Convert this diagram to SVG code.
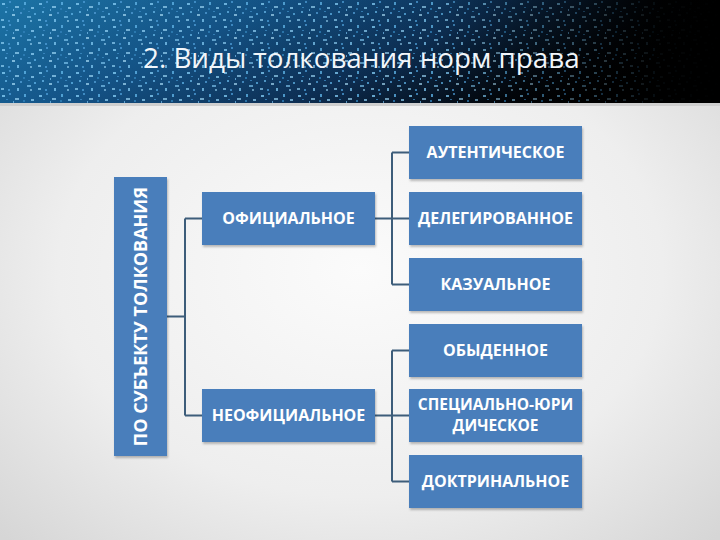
<svg xmlns="http://www.w3.org/2000/svg" width="720" height="540" viewBox="0 0 720 540">
  <defs>
    <radialGradient id="bg" cx="0.5" cy="0.5" r="0.7">
      <stop offset="0" stop-color="#fbfbfb"/>
      <stop offset="0.6" stop-color="#eeeeee"/>
      <stop offset="1" stop-color="#d6d6d6"/>
    </radialGradient>
    <linearGradient id="ban" x1="0" y1="0" x2="1" y2="0.3">
      <stop offset="0" stop-color="#1c74a6"/>
      <stop offset="0.35" stop-color="#145488"/>
      <stop offset="0.65" stop-color="#0d3056"/>
      <stop offset="0.9" stop-color="#03080f"/>
      <stop offset="1" stop-color="#000000"/>
    </linearGradient>
    <linearGradient id="fade" x1="0" y1="0" x2="1" y2="0">
      <stop offset="0" stop-color="#000" stop-opacity="0"/>
      <stop offset="0.6" stop-color="#000" stop-opacity="0.05"/>
      <stop offset="0.8" stop-color="#000" stop-opacity="0.5"/>
      <stop offset="0.92" stop-color="#000" stop-opacity="0.95"/>
      <stop offset="1" stop-color="#000" stop-opacity="1"/>
    </linearGradient>
    <pattern id="dots" x="0" y="0" width="37" height="23" patternUnits="userSpaceOnUse">
      <rect x="2" y="3" width="3" height="2" fill="#7cc4ef" opacity="0.85"/>
      <rect x="9" y="1" width="2" height="2" fill="#4a9ad4" opacity="0.8"/>
      <rect x="15" y="6" width="4" height="2" fill="#9ad6f7" opacity="0.7"/>
      <rect x="24" y="2" width="2" height="3" fill="#5aaee2" opacity="0.85"/>
      <rect x="31" y="7" width="3" height="2" fill="#8fd0f5" opacity="0.75"/>
      <rect x="5" y="11" width="2" height="2" fill="#62b2e4" opacity="0.8"/>
      <rect x="12" y="14" width="3" height="2" fill="#a8ddf8" opacity="0.7"/>
      <rect x="20" y="12" width="2" height="2" fill="#4b97cf" opacity="0.85"/>
      <rect x="27" y="16" width="4" height="2" fill="#7cc4ef" opacity="0.7"/>
      <rect x="34" y="13" width="2" height="2" fill="#5aaee2" opacity="0.8"/>
      <rect x="1" y="19" width="3" height="2" fill="#8fd0f5" opacity="0.7"/>
      <rect x="8" y="20" width="2" height="2" fill="#4a9ad4" opacity="0.8"/>
      <rect x="17" y="19" width="2" height="3" fill="#7cc4ef" opacity="0.8"/>
      <rect x="23" y="8" width="2" height="2" fill="#2f7fb8" opacity="0.85"/>
      <rect x="30" y="20" width="2" height="2" fill="#9ad6f7" opacity="0.6"/>
      <rect x="6" y="7" width="2" height="1" fill="#3d8cc6" opacity="0.8"/>
      <rect x="28" y="11" width="2" height="1" fill="#3d8cc6" opacity="0.8"/>
      <rect x="13" y="9" width="1" height="2" fill="#6fb8e8" opacity="0.8"/>
    </pattern>
    <filter id="sh" x="-10%" y="-10%" width="130%" height="140%">
      <feDropShadow dx="1" dy="2" stdDeviation="1.2" flood-color="#000" flood-opacity="0.25"/>
    </filter>
    <style>
      .box { fill: #4a7ebb; filter: url(#sh); }
      .lbl { font-family: "Open Sans", "Noto Sans", "DejaVu Sans", sans-serif; font-weight: bold; font-size: 16px; fill: #ffffff; text-anchor: middle; }
      .conn { fill: none; stroke: #3d5d7a; stroke-width: 2; }
      .title { font-family: "Open Sans", "Noto Sans", "DejaVu Sans", sans-serif; font-size: 27.8px; fill: #f2f6fa; }
    </style>
  </defs>

  <!-- background -->
  <rect x="0" y="0" width="720" height="540" fill="url(#bg)"/>
  <rect x="0" y="0" width="720" height="103" fill="url(#ban)"/>
  <rect x="0" y="0" width="720" height="103" fill="url(#dots)"/>
  <rect x="0" y="0" width="720" height="103" fill="url(#fade)"/>
  <rect x="0" y="103" width="720" height="3" fill="#cfcfcf"/>

  <text class="title" x="143" y="68">2. Виды толкования норм права</text>

  <!-- connectors -->
  <g id="connectors">
    <path class="conn" d="M167,316.5 H185 M185,218.5 V415.5 M185,218.5 H202 M185,415.5 H202"/>
    <path class="conn" d="M375,218.5 H392 M392,152.5 V284.5 M392,152.5 H409 M392,218.5 H409 M392,284.5 H409"/>
    <path class="conn" d="M375,415.5 H392 M392,350.5 V481.5 M392,350.5 H409 M392,415.5 H409 M392,481.5 H409"/>
  </g>

  <g id="root">
    <rect class="box" x="114" y="177" width="53" height="279"/>
    <text class="lbl" style="font-size:18px" transform="translate(147,316.5) rotate(-90)">ПО СУБЪЕКТУ ТОЛКОВАНИЯ</text>
  </g>

  <g id="official">
    <rect class="box" x="202" y="192" width="173" height="53"/>
    <text class="lbl" x="288.5" y="224">ОФИЦИАЛЬНОЕ</text>
  </g>
  <g id="unofficial">
    <rect class="box" x="202" y="389" width="173" height="53"/>
    <text class="lbl" x="288.5" y="421">НЕОФИЦИАЛЬНОЕ</text>
  </g>

  <g id="authentic">
    <rect class="box" x="409" y="126" width="173" height="53"/>
    <text class="lbl" x="495.5" y="158">АУТЕНТИЧЕСКОЕ</text>
  </g>
  <g id="delegated">
    <rect class="box" x="409" y="192" width="173" height="53"/>
    <text class="lbl" x="495.5" y="224">ДЕЛЕГИРОВАННОЕ</text>
  </g>
  <g id="casual">
    <rect class="box" x="409" y="258" width="173" height="53"/>
    <text class="lbl" x="495.5" y="290">КАЗУАЛЬНОЕ</text>
  </g>
  <g id="ordinary">
    <rect class="box" x="409" y="324" width="173" height="53"/>
    <text class="lbl" x="495.5" y="356">ОБЫДЕННОЕ</text>
  </g>
  <g id="special">
    <rect class="box" x="409" y="389" width="173" height="53"/>
    <text class="lbl" style="font-size:15.5px" x="495.5" y="410">СПЕЦИАЛЬНО-ЮРИ</text>
    <text class="lbl" style="font-size:15.5px" x="495.5" y="431">ДИЧЕСКОЕ</text>
  </g>
  <g id="doctrinal">
    <rect class="box" x="409" y="455" width="173" height="53"/>
    <text class="lbl" x="495.5" y="487">ДОКТРИНАЛЬНОЕ</text>
  </g>
</svg>
